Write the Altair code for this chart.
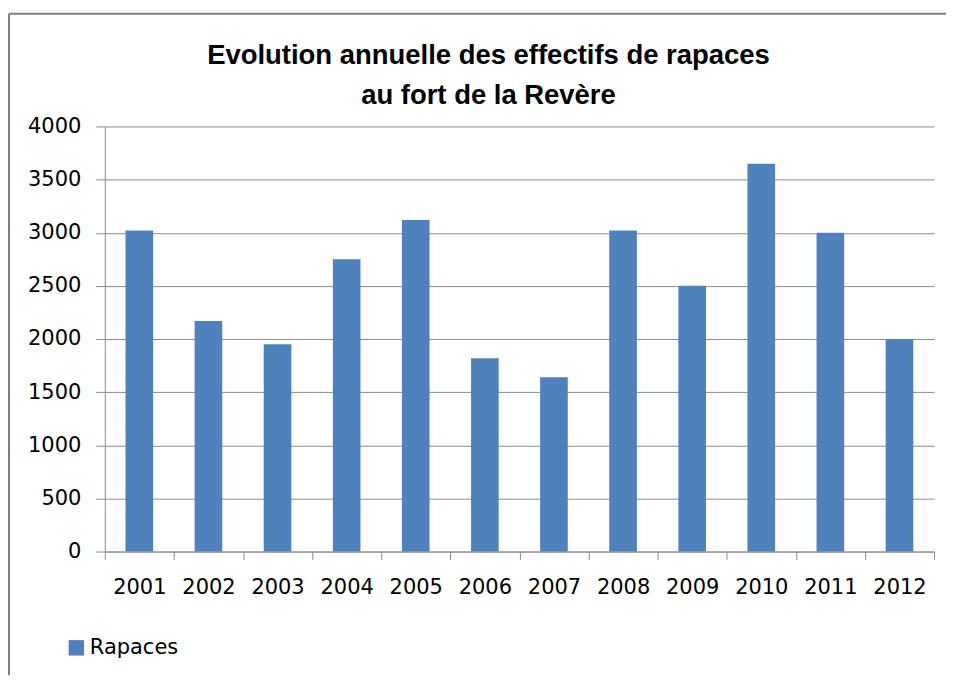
import altair as alt
import pandas as pd

years = ["2001", "2002", "2003", "2004", "2005", "2006", "2007", "2008", "2009", "2010", "2011", "2012"]
rapaces = [3020, 2170, 1950, 2750, 3120, 1820, 1640, 3020, 2500, 3650, 3000, 2000]
series_name = "Rapaces"
y_ticks = [0, 500, 1000, 1500, 2000, 2500, 3000, 3500, 4000]
title_lines = ["Evolution annuelle des effectifs de rapaces", "au fort de la Revère"]

df = pd.DataFrame({"Année": years, "Effectif": rapaces, "Série": [series_name] * len(years)})

GRAY = "#8c8c8c"
FONT = "DejaVu Sans"

bars = alt.Chart(df).mark_bar(color="#4F81BD", width=alt.RelativeBandSize(0.4)).encode(
    x=alt.X(
        "Année:N",
        sort=years,
        scale=alt.Scale(paddingInner=0, paddingOuter=0),
        axis=alt.Axis(
            title=None,
            labelAngle=0,
            tickBand="extent",
            tickSize=8,
            tickColor=GRAY,
            domainColor=GRAY,
            labelFont=FONT,
            labelFontSize=21,
            labelColor="#000000",
            labelPadding=17,
            grid=False,
        ),
    ),
    y=alt.Y(
        "Effectif:Q",
        scale=alt.Scale(domain=[0, 4000], nice=False),
        axis=alt.Axis(
            title=None,
            values=y_ticks,
            format="d",
            tickSize=9,
            tickColor=GRAY,
            domainColor=GRAY,
            gridColor=GRAY,
            labelFont=FONT,
            labelFontSize=21,
            labelColor="#000000",
            labelPadding=15,
        ),
    ),
    color=alt.Color(
        "Série:N",
        scale=alt.Scale(range=["#4F81BD"]),
        legend=alt.Legend(
            title=None,
            orient="none",
            legendX=-39,
            legendY=512,
            symbolType="square",
            symbolSize=240,
            symbolStrokeWidth=0,
            labelFont=FONT,
            labelFontSize=21,
            labelColor="#000000",
            labelOffset=3,
            padding=0,
        ),
    ),
)

frame = alt.Data(values=[{"k": 1}])
left_border = alt.Chart(frame).mark_rule(color="#7f7f7f", strokeWidth=2).encode(
    x=alt.value(-96), y=alt.value(-113), y2=alt.value(550)
)
top_border = alt.Chart(frame).mark_rule(color="#7f7f7f", strokeWidth=2).encode(
    x=alt.value(-96), x2=alt.value(843), y=alt.value(-113)
)

chart = (
    alt.layer(left_border, top_border, bars)
    .properties(
        width=831,
        height=426,
        padding={"left": 0, "top": 4, "right": 0, "bottom": 0},
        title=alt.Title(
            title_lines,
            font="Liberation Sans",
            fontSize=27.5,
            fontWeight="bold",
            lineHeight=40,
            anchor="middle",
            frame="group",
            dx=-31,
            dy=97,
            offset=0,
            color="#000000",
        ),
    )
    .configure_view(stroke=None)
)

chart.save("out.html", embed_options={"renderer": "svg", "actions": False})
